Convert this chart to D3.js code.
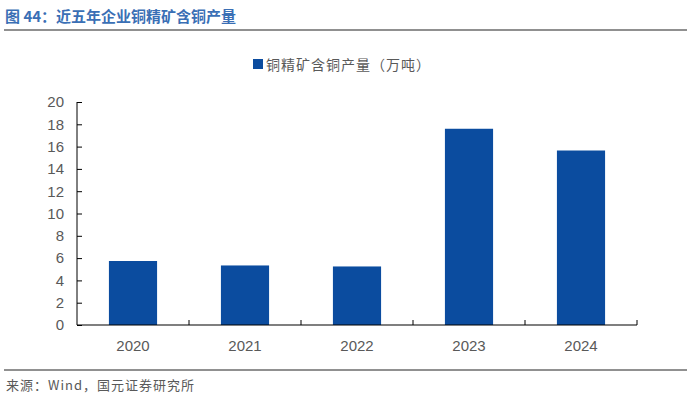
<!DOCTYPE html>
<html>
<head>
<meta charset="utf-8">
<script src="https://cdn.jsdelivr.net/npm/d3@7"></script>
<style>
body{margin:0;background:#fff}
svg{display:block}
text{font-family:"Liberation Sans",Arial,"Noto Sans CJK SC",sans-serif}
.cjk{font-family:"Noto Sans CJK SC",sans-serif}
</style>
</head>
<body>
<svg id="chart" width="691" height="399"></svg>
<script>
var years = ["2020","2021","2022","2023","2024"]
var output = [5.74,5.34,5.25,17.6,15.65]
var yTicks = [0,2,4,6,8,10,12,14,16,18,20]
var seriesName = "铜精矿含铜产量（万吨）"

var svg = d3.select("#chart")
var mLeft = 77, mRight = 637, mTop = 102, mBottom = 325

// title
svg.append("text").attr("class","cjk").text("图 44：近五年企业铜精矿含铜产量")
    .attr("x",5).attr("y",22).attr("font-size",15).attr("font-weight","bold").attr("fill","#3A6FB5")
svg.append("line").attr("x1",4).attr("x2",687).attr("y1",30).attr("y2",30)
    .attr("stroke","#222").attr("stroke-width",1.2)

var x = d3.scaleBand().domain(years).range([mLeft,mRight]).paddingInner(0.57).paddingOuter(0.285)
var xCat = d3.scaleBand().domain(years).range([mLeft,mRight])
var y = d3.scaleLinear().domain([0,20]).range([mBottom,mTop])

svg.selectAll("rect.bar").data(output).enter().append("rect")
    .attr("class","bar")
    .attr("x",function(d,i){return x(years[i])})
    .attr("width",x.bandwidth())
    .attr("y",function(d){return y(d)})
    .attr("height",function(d){return mBottom-y(d)})
    .attr("fill","#0B4C9F")

// y axis
var yAxis = d3.axisRight(y).tickValues(yTicks).tickSize(5).tickFormat(d3.format("d"))
var gy = svg.append("g").attr("transform","translate("+mLeft+",0)").call(yAxis)
gy.select(".domain").attr("d","M0,"+mTop+"V"+mBottom).attr("stroke","#000")
gy.selectAll(".tick line").attr("stroke","#000")
gy.selectAll(".tick text").attr("x",-13).attr("text-anchor","end").attr("font-size",15).attr("fill","#595959")

// x axis
svg.append("line").attr("x1",mLeft).attr("x2",mRight).attr("y1",mBottom).attr("y2",mBottom).attr("stroke","#000").attr("stroke-width",1.2)
svg.selectAll("line.xt").data(years).enter().append("line")
    .attr("class","xt")
    .attr("x1",function(d){return xCat(d)+xCat.bandwidth()})
    .attr("x2",function(d){return xCat(d)+xCat.bandwidth()})
    .attr("y1",mBottom).attr("y2",mBottom-5).attr("stroke","#000")
svg.selectAll("text.xl").data(years).enter().append("text")
    .attr("class","xl").text(function(d){return d})
    .attr("x",function(d){return xCat(d)+xCat.bandwidth()/2})
    .attr("y",351).attr("text-anchor","middle").attr("font-size",15).attr("fill","#595959")

// legend
svg.append("rect").attr("x",253).attr("y",59).attr("width",10).attr("height",10).attr("fill","#0B4C9F")
svg.append("text").attr("class","cjk").text(seriesName).attr("x",266).attr("y",70)
    .attr("font-size",14).attr("letter-spacing",1).attr("fill","#595959")

// footer
svg.append("line").attr("x1",4).attr("x2",687).attr("y1",370).attr("y2",370)
    .attr("stroke","#222").attr("stroke-width",1)
svg.append("text").attr("class","cjk").text("来源：Wind，国元证券研究所").attr("x",6).attr("y",390)
    .attr("font-size",13).attr("letter-spacing",1).attr("fill","#595959")
</script>
</body>
</html>
